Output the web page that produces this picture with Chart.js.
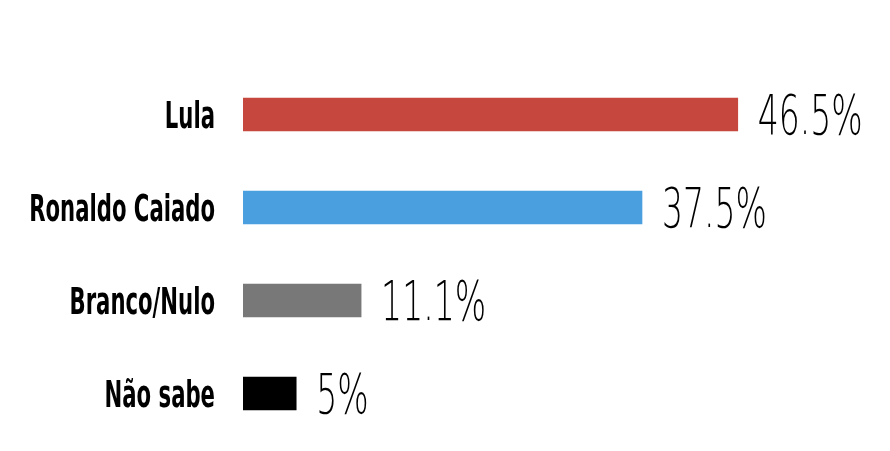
<!DOCTYPE html>
<html>
<head>
<meta charset="utf-8">
<script src="https://cdn.jsdelivr.net/npm/chart.js@4"></script>
<style>
  html, body { margin: 0; padding: 0; background: #fff; }
  #wrap { width: 890px; height: 451px; }
</style>
</head>
<body>
<div id="wrap"><canvas id="chart"></canvas></div>
<script>
// ── Data ─────────────────────────────────────────────────────
const CATEGORIES = ['Lula', 'Ronaldo Caiado', 'Branco/Nulo', 'Não sabe'];
const VALUES = [46.5, 37.5, 11.1, 5];
const VALUE_LABELS = ['46.5%', '37.5%', '11.1%', '5%'];
const BAR_COLORS = ['#c6473d', '#4a9fdf', '#787878', '#000000'];

// ── Labels drawn with condensed type ─────────────────────────
const labelPlugin = {
    id: 'condensedLabels',
    afterDatasetsDraw(chart) {
        const { ctx } = chart;
        const meta = chart.getDatasetMeta(0);
        const yScale = chart.scales.y;
        ctx.save();
        ctx.fillStyle = '#000';
        ctx.textBaseline = 'alphabetic';

        // category names, right aligned against the bars
        CATEGORIES.forEach((name, i) => {
            const y = yScale.getPixelForValue(i);
            ctx.save();
            ctx.translate(215, y + 13);
            ctx.scale(0.62, 1);
            ctx.font = 'bold 38px "DejaVu Sans Condensed", sans-serif';
            ctx.textAlign = 'right';
            ctx.fillText(name, 0, 0);
            ctx.restore();
        });

        // values at the bar ends
        meta.data.forEach((bar, i) => {
            ctx.save();
            ctx.translate(bar.x + 20, bar.y + 19);
            ctx.scale(0.59, 1);
            ctx.font = '200 56px "DejaVu Sans", sans-serif';
            ctx.textAlign = 'left';
            ctx.fillText(VALUE_LABELS[i], 0, 0);
            ctx.restore();
        });
        ctx.restore();
    },
};

new Chart(document.getElementById('chart'), {
    type: 'bar',
    data: {
        labels: CATEGORIES,
        datasets: [{
            data: VALUES,
            backgroundColor: BAR_COLORS,
            borderWidth: 0,
            barThickness: 33,
        }],
    },
    options: {
        indexAxis: 'y',
        responsive: true,
        maintainAspectRatio: false,
        animation: false,
        layout: { padding: { left: 243, right: 115, top: 68, bottom: 11 } },
        scales: {
            x: { display: false, min: 0, max: 50 },
            y: { display: false, grid: { display: false } },
        },
        plugins: {
            legend: { display: false },
            tooltip: { enabled: false },
        },
    },
    plugins: [labelPlugin],
});
</script>
</body>
</html>
